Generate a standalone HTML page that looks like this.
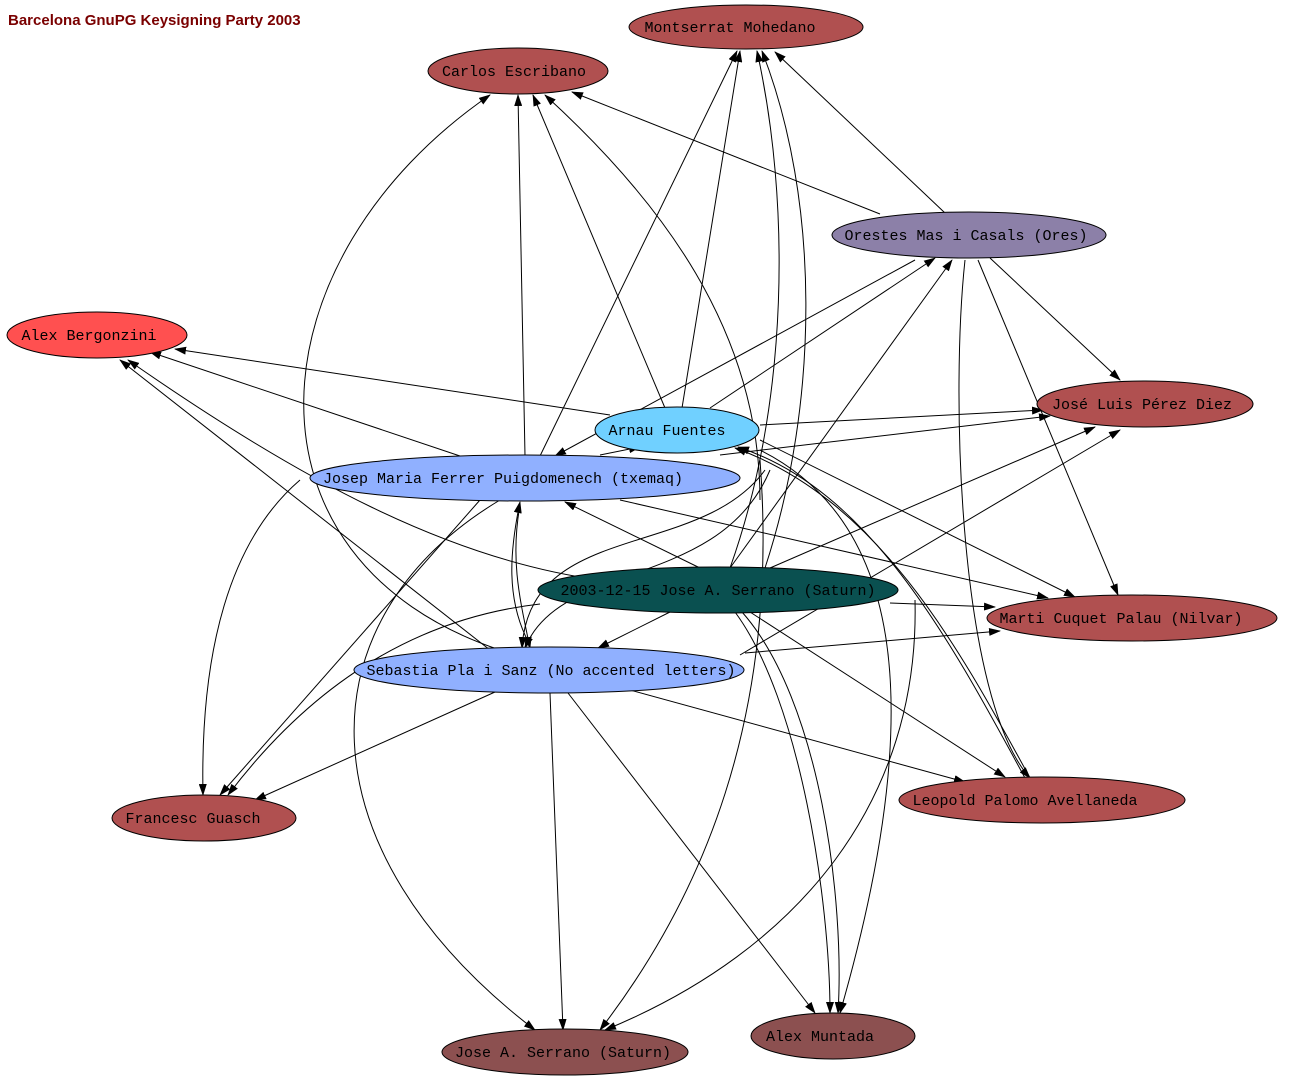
<!DOCTYPE html>
<html><head><meta charset="utf-8"><style>
html,body{margin:0;padding:0;background:#fff;}
svg{display:block;}
.n{stroke:#000;stroke-width:1;}
.t{font-family:"Liberation Mono",monospace;font-size:15px;text-anchor:middle;fill:#000;}
path,line{fill:none;stroke:#000;stroke-width:1;}
</style></head><body>
<svg width="1290" height="1086" viewBox="0 0 1290 1086" xmlns="http://www.w3.org/2000/svg">
<defs><marker id="a" markerWidth="12" markerHeight="8" refX="11" refY="4" orient="auto" markerUnits="userSpaceOnUse"><path d="M0,0 L12,4 L0,8 Z" style="fill:#000;stroke:none"/></marker></defs>
<text x="8" y="25" style="font-family:'Liberation Sans',sans-serif;font-weight:bold;font-size:15px;fill:#7a0000">Barcelona GnuPG Keysigning Party 2003</text>
<g marker-end="url(#a)">
<line x1="682" y1="408" x2="740" y2="51"/>
<line x1="540" y1="456" x2="737" y2="51"/>
<line x1="945" y1="213" x2="775" y2="52"/>
<path d="M730,568 C790,400 790,200 757,51"/>
<path d="M765,568 C820,400 820,200 762,51"/>
<line x1="880" y1="214" x2="572" y2="92"/>
<line x1="525" y1="456" x2="518" y2="95"/>
<line x1="665" y1="408" x2="533" y2="95"/>
<path d="M500,650 C230,560 250,260 490,95"/>
<path d="M760,500 C760,330 660,200 545,95"/>
<line x1="610" y1="415" x2="175" y2="349"/>
<line x1="460" y1="456" x2="150" y2="352"/>
<line x1="490" y1="650" x2="120" y2="360"/>
<path d="M600,580 C450,560 300,480 128,360"/>
<line x1="710" y1="408" x2="935" y2="258"/>
<line x1="915" y1="260" x2="555" y2="456"/>
<line x1="730" y1="568" x2="952" y2="260"/>
<line x1="990" y1="258" x2="1120" y2="380"/>
<line x1="978" y1="260" x2="1118" y2="595"/>
<path d="M965,260 C950,400 960,700 1030,778"/>
<line x1="760" y1="425" x2="1043" y2="410"/>
<line x1="720" y1="455" x2="1050" y2="416"/>
<line x1="770" y1="568" x2="1095" y2="427"/>
<line x1="740" y1="655" x2="1120" y2="430"/>
<line x1="760" y1="440" x2="1075" y2="597"/>
<line x1="620" y1="500" x2="1048" y2="598"/>
<line x1="890" y1="603" x2="995" y2="607"/>
<line x1="745" y1="653" x2="1000" y2="631"/>
<path d="M1030,778 C960,650 880,500 735,448"/>
<path d="M1025,778 C950,640 870,490 738,447"/>
<line x1="630" y1="690" x2="965" y2="782"/>
<line x1="750" y1="612" x2="1005" y2="777"/>
<path d="M300,480 C230,540 200,650 203,795"/>
<line x1="480" y1="500" x2="220" y2="795"/>
<path d="M540,604 C400,620 300,700 228,795"/>
<line x1="495" y1="692" x2="255" y2="800"/>
<path d="M500,500 C300,620 300,850 535,1030"/>
<line x1="550" y1="693" x2="563" y2="1030"/>
<path d="M760,460 C780,720 700,900 600,1030"/>
<path d="M915,600 C920,800 800,950 605,1030"/>
<line x1="568" y1="693" x2="815" y2="1013"/>
<path d="M735,612 C800,700 830,900 830,1013"/>
<path d="M742,612 C820,700 845,900 838,1013"/>
<path d="M760,450 C900,520 930,700 840,1013"/>
<line x1="670" y1="612" x2="598" y2="648"/>
<line x1="700" y1="568" x2="565" y2="502"/>
<path d="M520,505 C510,560 520,600 530,648"/>
<path d="M530,645 C505,600 510,550 520,502"/>
<path d="M765,470 C700,560 530,520 522,648"/>
<path d="M770,470 C720,590 560,560 525,648"/>
<line x1="600" y1="455" x2="640" y2="447"/>
</g>
<ellipse class="n" cx="746" cy="27" rx="117" ry="22" fill="#b05050"/>
<text class="t" x="730" y="32">Montserrat Mohedano</text>
<ellipse class="n" cx="518" cy="71" rx="90" ry="23" fill="#b05050"/>
<text class="t" x="514" y="76">Carlos Escribano</text>
<ellipse class="n" cx="969" cy="235" rx="137" ry="23" fill="#8c80a8"/>
<text class="t" x="966" y="240">Orestes Mas i Casals (Ores)</text>
<ellipse class="n" cx="97" cy="335" rx="90" ry="23" fill="#ff5050"/>
<text class="t" x="89" y="340">Alex Bergonzini</text>
<ellipse class="n" cx="1145" cy="404" rx="108" ry="23" fill="#b05050"/>
<text class="t" x="1142" y="409">José Luis Pérez Diez</text>
<ellipse class="n" cx="677" cy="430" rx="82" ry="23" fill="#70d0ff"/>
<text class="t" x="667" y="435">Arnau Fuentes</text>
<ellipse class="n" cx="525" cy="478" rx="215" ry="23" fill="#90b0ff"/>
<text class="t" x="503" y="483">Josep Maria Ferrer Puigdomenech (txemaq)</text>
<ellipse class="n" cx="718" cy="590" rx="180" ry="23" fill="#0a5050"/>
<text class="t" x="718" y="595" style="fill:#000">2003-12-15   Jose A. Serrano (Saturn)</text>
<ellipse class="n" cx="1132" cy="618" rx="145" ry="23" fill="#b05050"/>
<text class="t" x="1121" y="623">Marti Cuquet Palau (Nilvar)</text>
<ellipse class="n" cx="549" cy="670" rx="195" ry="23" fill="#90b0ff"/>
<text class="t" x="551" y="675">Sebastia Pla i Sanz (No accented letters)</text>
<ellipse class="n" cx="1042" cy="800" rx="143" ry="23" fill="#b05050"/>
<text class="t" x="1025" y="805">Leopold Palomo Avellaneda</text>
<ellipse class="n" cx="204" cy="818" rx="92" ry="23" fill="#b05050"/>
<text class="t" x="193" y="823">Francesc Guasch</text>
<ellipse class="n" cx="565" cy="1052" rx="123" ry="23" fill="#8c5050"/>
<text class="t" x="563" y="1057">Jose A. Serrano (Saturn)</text>
<ellipse class="n" cx="833" cy="1036" rx="82" ry="23" fill="#8c5050"/>
<text class="t" x="820" y="1041">Alex Muntada</text>
</svg>
</body></html>
